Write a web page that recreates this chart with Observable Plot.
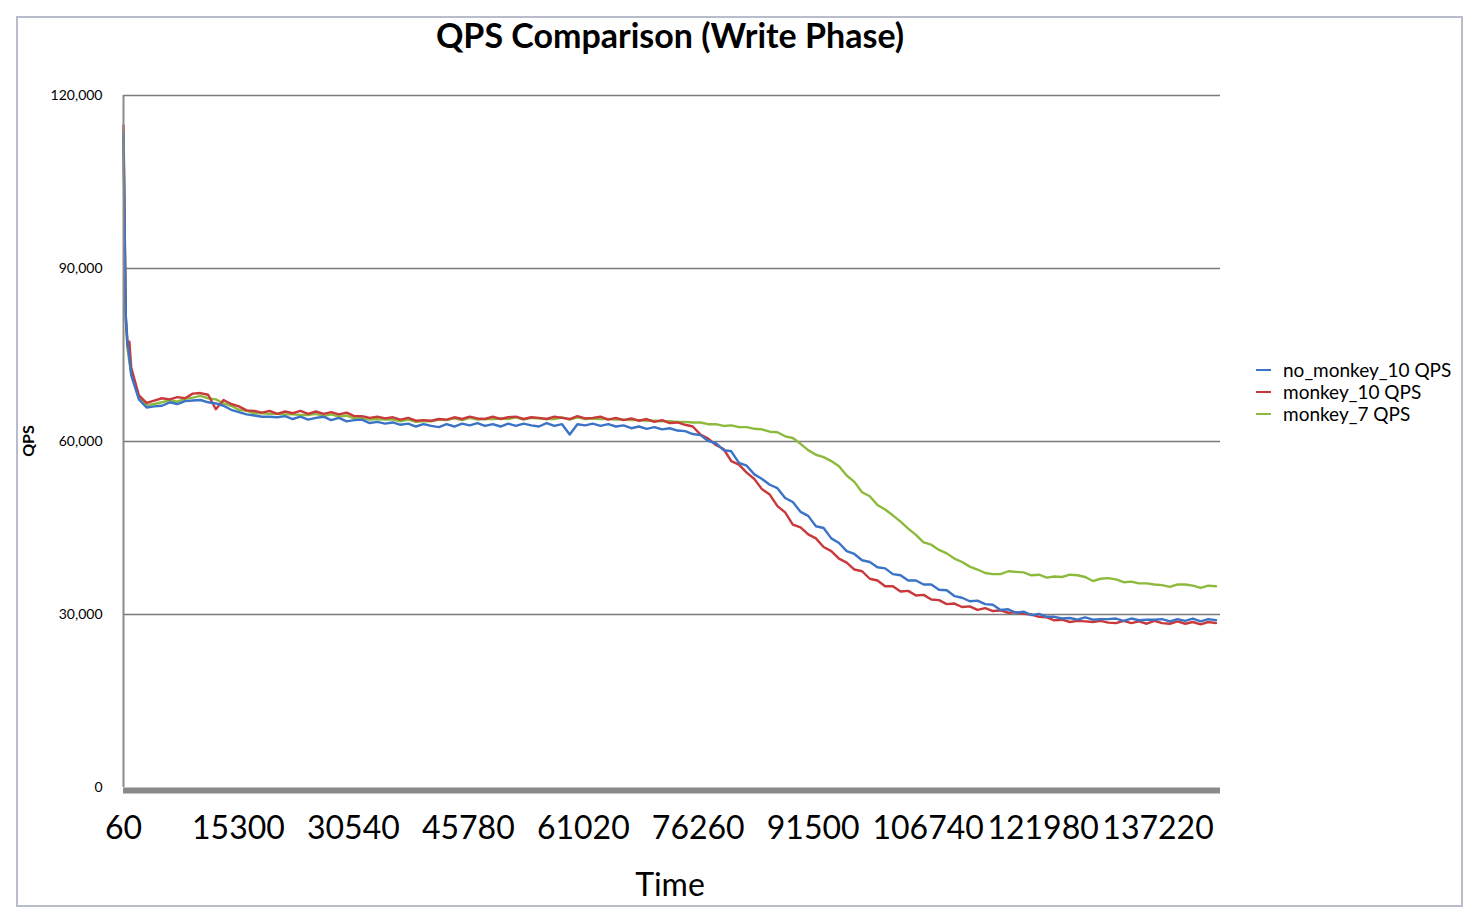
<!DOCTYPE html>
<html><head><meta charset="utf-8">
<script src="https://cdn.jsdelivr.net/npm/d3@7"></script>
<script src="https://cdn.jsdelivr.net/npm/@observablehq/plot@0.6"></script>
<style>
body{margin:0;background:#fff;font-family:Lato,"Open Sans",sans-serif;color:#000;}
#wrap{position:relative;width:1474px;height:920px;overflow:hidden;background:#fff;}
#frame{position:absolute;left:16px;top:16px;width:1447px;height:891px;border:2px solid #b9bccb;box-sizing:border-box;pointer-events:none;}
#chart{position:absolute;left:0;top:0;}
#title{position:absolute;left:0;width:1340px;top:18px;text-align:center;font-weight:bold;font-size:34px;line-height:1;}
#xlabel{position:absolute;left:0;width:1340px;top:868px;text-align:center;font-size:32px;line-height:1;}
#ylabel{position:absolute;left:28px;top:441px;transform:translate(-50%,-50%) rotate(-90deg);font-weight:bold;font-size:16px;line-height:1;white-space:nowrap;}
#legend{position:absolute;left:1256px;top:359px;font-size:19px;line-height:22px;}
#legend .item{display:flex;align-items:center;white-space:nowrap;}
#legend .sw{width:15px;height:2px;margin-right:12px;}
</style>
</head><body>
<div id="wrap">
  <div id="chart"></div>
  <div id="title"></div>
  <div id="xlabel"></div>
  <div id="ylabel"></div>
  <div id="legend"></div>
  <div id="frame"></div>
</div>
<script>
const titleText = "QPS Comparison (Write Phase)";
const xLabel = "Time";
const yLabel = "QPS";
const seriesNames = ["no_monkey_10 QPS", "monkey_10 QPS", "monkey_7 QPS"];
const seriesColors = ["#3b73c7", "#c9383a", "#8dba3c"];
const xTicks = [60, 15300, 30540, 45780, 61020, 76260, 91500, 106740, 121980, 137220];
const yTicks = [0, 30000, 60000, 90000, 120000];

// sample times (seconds)
const times = [60, 180, 360, 600, 840, ...d3.range(1080, 144901, 1020)];

const noMonkey10 = [
  113600, 100500, 82000, 77000, 74500,
  71500, 67300, 65900, 66100, 66200, 66800, 66500, 67000, 67100, 67200,
  66800, 66600, 66200, 65500, 65100, 64700, 64500, 64300, 64300, 64200,
  64400, 63900, 64300, 63800, 64100, 64300, 63700, 64100, 63500, 63700,
  63800, 63200, 63400, 63100, 63300, 62900, 63100, 62600, 63000, 62700,
  62500, 63000, 62600, 63100, 62800, 63200, 62700, 63000, 62600, 63100,
  62700, 63100, 62800, 62600, 63200, 62700, 63000, 61200, 63000, 62800,
  63100, 62700, 63000, 62600, 62800, 62300, 62600, 62200, 62500, 62100,
  62300, 61900, 61800, 61300, 61100, 60100, 59700, 58500, 58300, 56300,
  55800, 54300, 53500, 52500, 51900, 50200, 49500, 47800, 47100, 45300,
  45000, 43200, 42400, 41000, 40500, 39400, 39100, 38200, 38000, 37000,
  36800, 35900, 35900, 35200, 35200, 34300, 34200, 33200, 32900, 32300,
  32400, 31800, 31700, 30800, 30900, 30300, 30500, 29900, 30100, 29600,
  29600, 29300, 29400, 29100, 29500, 29100, 29200, 29200, 29300, 28900,
  29300, 29000, 29100, 29100, 29200, 28800, 29200, 28900, 29300, 28800, 29200, 29000
];
const monkey10 = [
  114800, 101500, 81500, 76500, 77300,
  72800, 68000, 66700, 67100, 67500, 67300, 67700, 67500, 68300, 68400,
  68100, 65600, 67200, 66500, 66100, 65400, 65300, 65000, 65300, 64800,
  65200, 64900, 65300, 64800, 65200, 64800, 65100, 64700, 65000, 64400,
  64400, 64100, 64300, 64000, 64200, 63800, 64100, 63600, 63700, 63600,
  63900, 63800, 64200, 63900, 64300, 64000, 63900, 64300, 63900, 64200,
  64300, 63900, 64200, 64100, 63900, 64300, 64100, 63900, 64400, 64000,
  64100, 64300, 63800, 64100, 63700, 64000, 63600, 63900, 63400, 63700,
  63200, 63300, 62900, 62600, 61200, 60500, 59400, 58700, 56600, 56000,
  54600, 53500, 51700, 50800, 48800, 47700, 45600, 45100, 43900, 43200,
  41700, 41000, 39700, 39000, 37800, 37500, 36200, 35900, 34900, 34900,
  34000, 34100, 33300, 33400, 32600, 32500, 31800, 31900, 31300, 31400,
  30800, 31100, 30600, 30700, 30300, 30400, 30100, 30000, 29600, 29500,
  29000, 29100, 28700, 28900, 28800, 28700, 28900, 28600, 28500, 28900,
  28500, 28800, 28400, 28900, 28500, 28400, 28800, 28400, 28700, 28300, 28700, 28500
];
const monkey7 = [
  112500, 99000, 81000, 76000, 73800,
  71800, 67600, 66300, 66500, 66800, 67200, 66900, 67400, 67600, 67900,
  67500, 67300, 66600, 66200, 65500, 65300, 64900, 64900, 64800, 64800,
  64700, 64700, 64600, 64600, 64800, 64400, 64700, 64300, 64500, 64000,
  64100, 63800, 63900, 63800, 63800, 63500, 63800, 63400, 63500, 63500,
  63800, 63700, 64000, 63700, 64100, 63800, 63900, 63900, 64000, 63900,
  64200, 63800, 64100, 64000, 63900, 63900, 64200, 63800, 64200, 63900,
  64000, 63900, 63900, 63800, 63800, 63700, 63700, 63600, 63600, 63500,
  63500, 63400, 63400, 63300, 63300, 63000, 63000, 62700, 62800, 62500,
  62500, 62200, 62100, 61700, 61600, 60900, 60600, 59600, 58500, 57700,
  57300, 56600, 55700, 54100, 53000, 51200, 50500, 49000, 48200, 47200,
  46100, 44900, 43800, 42500, 42100, 41200, 40600, 39700, 39100, 38300,
  37800, 37200, 37000, 37000, 37500, 37400, 37300, 36800, 36900, 36400,
  36600, 36500, 36900, 36800, 36500, 35800, 36200, 36300, 36100, 35600,
  35700, 35400, 35400, 35200, 35100, 34800, 35200, 35200, 35000, 34600, 35000, 34900
];

const seriesValues = [noMonkey10, monkey10, monkey7];
const rows = (vals, name) => times.map((t, i) => ({time: t, qps: vals[i], series: name}));

const lineMark = (idx) => Plot.line(rows(seriesValues[idx], seriesNames[idx]), {
  x: "time", y: "qps", stroke: seriesColors[idx], strokeWidth: 2.4, strokeLinejoin: "round"
});

const chart = Plot.plot({
  width: 1474,
  height: 920,
  marginLeft: 123,
  marginRight: 254,
  marginTop: 95,
  marginBottom: 133,
  style: {fontFamily: "Lato, 'Open Sans', sans-serif", color: "#000", background: "transparent"},
  x: {type: "linear", domain: [60, 145500]},
  y: {type: "linear", domain: [0, 120000]},
  marks: [
    Plot.ruleY(yTicks.filter(d => d > 0), {stroke: "#7a7a7a", strokeWidth: 1.6}),
    lineMark(2),
    lineMark(1),
    lineMark(0),
    Plot.ruleX([60], {stroke: "#8a8a8a", strokeWidth: 2}),
    Plot.ruleY([0], {stroke: "#8a8a8a", strokeWidth: 6, dy: 3}),
    Plot.axisY({ticks: yTicks, tickFormat: d3.format(","), tickSize: 0, tickPadding: 21, fontSize: 14, label: null}),
    Plot.axisX({ticks: xTicks, tickFormat: d => String(d), tickSize: 0, tickPadding: 29, fontSize: 32, label: null})
  ]
});
document.getElementById("chart").appendChild(chart);

document.getElementById("title").textContent = titleText;
document.getElementById("xlabel").textContent = xLabel;
document.getElementById("ylabel").textContent = yLabel;
const legend = document.getElementById("legend");
seriesNames.forEach((n, i) => {
  const it = document.createElement("div");
  it.className = "item";
  const sw = document.createElement("span");
  sw.className = "sw";
  sw.style.background = seriesColors[i];
  const tx = document.createElement("span");
  tx.textContent = n;
  it.appendChild(sw); it.appendChild(tx);
  legend.appendChild(it);
});
</script>
</body></html>
